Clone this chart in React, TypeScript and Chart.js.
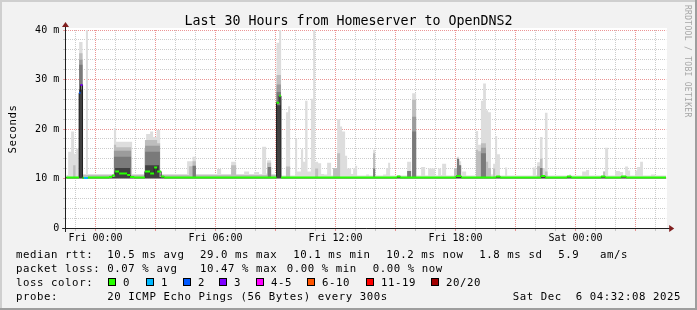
import React, { useEffect, useRef } from 'react';
import { Chart, registerables } from 'chart.js';

Chart.register(...registerables);

// ---- time axis: hours relative to Fri 00:00 ----
const windowStart = -1.4667; // Thu 22:32
const windowEnd = 28.5333; // Sat 04:32
const hourTicks = [-1, 0, 1, 2, 3, 4, 5, 6, 7, 8, 9, 10, 11, 12, 13, 14, 15, 16, 17, 18, 19, 20, 21, 22, 23, 24, 25, 26, 27, 28];
const majorHourEvery = 3;
const xLabelHours = [0, 6, 12, 18, 24];
const xLabelTexts = ['Fri 00:00', 'Fri 06:00', 'Fri 12:00', 'Fri 18:00', 'Sat 00:00'];

// ---- value axis (ms) ----
const yTickValues = [0, 2, 4, 6, 8, 10, 12, 14, 16, 18, 20, 22, 24, 26, 28, 30, 32, 34, 36, 38, 40];
const yLabelValues = [0, 10, 20, 30, 40];
const yLabelTexts = ['0', '10 m', '20 m', '30 m', '40 m'];

// ---- smoke layers: [hour, ms] steps (value holds until next step) ----
const maxSteps: [number, number][] = [
  [-1.47, 10.7], [-1.37, 15.4], [-1.22, 19.5], [-1.07, 15.0], [-0.97, 16.0], [-0.84, 10.7], [-0.82, 37.6], [-0.65, 10.9], [-0.48, 40.5], [-0.38, 10.9],
  [0.92, 20.2], [1.03, 17.4], [1.83, 10.9], [2.43, 16.1], [2.53, 19.0], [2.73, 19.5], [2.88, 18.4], [3.05, 19.8], [3.23, 10.9],
  [4.58, 13.5], [4.85, 14.4], [5.02, 10.9], [6.08, 11.9], [6.28, 10.9], [6.78, 13.4], [7.03, 10.9], [7.43, 11.4], [7.68, 10.9], [7.93, 11.3], [8.18, 10.9], [8.33, 16.4], [8.53, 11.0], [8.58, 13.7], [8.78, 10.9],
  [9.05, 37.4], [9.18, 40.5], [9.28, 10.6], [9.52, 23.4], [9.63, 24.6], [9.73, 10.6], [9.98, 18.1], [10.08, 11.4], [10.27, 15.9], [10.38, 13.4], [10.48, 25.7], [10.6, 11.4], [10.77, 26.1], [10.88, 40.5], [10.98, 13.4], [11.13, 13.1], [11.28, 10.9], [11.43, 10.8], [11.58, 13.2], [11.78, 10.6],
  [11.88, 12.1], [12.08, 22.0], [12.23, 20.5], [12.33, 19.5], [12.48, 14.6], [12.58, 12.0], [12.78, 10.9], [12.88, 12.0], [12.98, 12.6], [13.08, 10.6], [13.53, 10.8], [13.68, 10.6], [13.88, 15.8], [13.98, 10.6], [14.38, 10.8], [14.53, 12.1], [14.63, 13.2], [14.73, 10.6],
  [15.08, 10.7], [15.28, 10.6], [15.58, 13.4], [15.78, 10.6], [15.83, 27.2], [16.03, 10.6], [16.28, 12.3], [16.48, 10.6], [16.63, 12.0], [16.98, 10.6], [17.13, 12.0], [17.28, 10.7], [17.33, 13.0], [17.53, 10.6], [17.93, 12.1], [18.07, 14.4], [18.18, 13.5], [18.28, 10.6], [18.33, 11.4], [18.53, 10.6],
  [19.02, 19.6], [19.13, 16.8], [19.27, 25.7], [19.38, 29.2], [19.52, 23.8], [19.63, 23.4], [19.77, 10.8], [19.88, 13.0], [19.98, 18.6], [20.08, 14.9], [20.22, 10.6], [20.48, 12.2], [20.58, 10.6],
  [21.86, 12.2], [22.03, 10.7], [22.08, 13.3], [22.22, 18.4], [22.35, 12.1], [22.47, 23.3], [22.6, 10.6], [23.68, 10.8], [23.78, 10.6], [24.33, 11.4], [24.53, 11.7], [24.68, 10.6], [25.38, 11.4], [25.48, 16.2], [25.63, 10.6],
  [25.98, 11.5], [26.22, 11.3], [26.38, 10.6], [26.48, 12.4], [26.62, 11.6], [26.73, 10.6], [26.98, 11.6], [27.08, 12.3], [27.23, 13.4], [27.37, 10.6], [27.77, 10.8], [27.98, 10.6],
];
const midSteps: [number, number][] = [
  [-1.47, 10.3], [-1.12, 12.7], [-1.0, 10.3], [-0.82, 35.3], [-0.65, 10.7], [0.92, 16.8], [1.03, 16.3], [1.78, 10.7], [2.47, 17.8], [3.08, 17.1], [3.23, 10.7],
  [4.68, 12.5], [4.85, 13.5], [5.02, 10.7], [6.78, 12.7], [7.03, 10.7], [8.58, 13.2], [8.78, 10.7], [9.05, 30.9], [9.27, 10.3], [9.52, 12.4], [9.73, 10.3],
  [10.98, 12.0], [11.13, 10.3], [11.88, 12.1], [12.08, 15.1], [12.23, 10.3], [13.88, 15.1], [13.98, 10.3], [15.83, 25.9], [16.03, 10.3],
  [17.93, 12.1], [18.07, 14.0], [18.18, 12.7], [18.28, 10.3], [19.02, 15.8], [19.13, 15.5], [19.27, 17.1], [19.52, 13.4], [19.63, 12.1], [19.77, 10.3], [19.88, 12.0], [19.98, 10.3],
  [22.08, 12.5], [22.22, 14.0], [22.35, 10.3], [22.47, 11.4], [22.6, 10.3], [25.38, 11.4], [25.48, 10.3],
];
const mid2Steps: [number, number][] = [
  [-1.47, 10.3], [-0.82, 34.0], [-0.65, 10.3], [0.92, 15.6], [1.78, 10.3], [2.48, 16.6], [3.22, 10.3], [9.05, 29.0], [9.27, 10.3],
  [15.83, 22.5], [16.03, 10.3], [19.27, 16.2], [19.52, 10.3],
];
const darkSteps: [number, number][] = [
  [-1.47, 10.3], [-0.82, 33.0], [-0.65, 10.3], [0.92, 14.4], [1.78, 10.3], [2.48, 15.4], [3.22, 10.3], [4.85, 12.6], [5.02, 10.3], [8.61, 12.3], [8.78, 10.3],
  [9.05, 27.5], [9.27, 10.3], [13.88, 12.0], [13.98, 10.3], [15.58, 11.5], [15.78, 10.3], [15.83, 19.5], [16.03, 10.3], [18.07, 14.0], [18.18, 12.7], [18.28, 10.3],
  [19.27, 15.1], [19.52, 10.3], [22.22, 12.1], [22.35, 10.3],
];
const blackSteps: [number, number][] = [
  [-1.47, 10.3], [-0.82, 28.0], [-0.65, 10.3], [0.98, 12.1], [1.73, 10.3], [2.48, 12.7], [3.18, 10.3], [9.05, 24.8], [9.27, 10.3],
];

// ---- median rtt: [hour, ms, loss colour index] ----
const medianSteps: [number, number, number][] = [
  [-1.47, 10.2, 0], [-0.82, 27.3, 2], [-0.75, 28.9, 3], [-0.65, 10.15, 0], [-0.58, 10.1, 1], [-0.38, 10.2, 0],
  [0.68, 10.3, 0], [0.83, 10.6, 0], [0.98, 11.4, 0], [1.18, 11.0, 0], [1.58, 10.7, 0], [1.73, 10.3, 0], [1.93, 10.2, 0],
  [2.47, 11.4, 0], [2.73, 11.0, 0], [2.93, 12.2, 0], [3.08, 11.4, 0], [3.28, 10.4, 0], [3.43, 10.2, 0],
  [9.05, 25.3, 0], [9.18, 26.7, 0], [9.27, 10.2, 0], [15.08, 10.4, 0], [15.23, 10.2, 0], [18.03, 10.5, 0], [18.28, 10.2, 0],
  [20.03, 10.4, 0], [20.23, 10.2, 0], [22.28, 10.5, 0], [22.48, 10.2, 0], [23.58, 10.4, 0], [23.78, 10.2, 0],
  [25.28, 10.4, 0], [25.48, 10.2, 0], [26.28, 10.4, 0], [26.53, 10.2, 0],
];

const lossColors = ['#26ff00', '#00b8ff', '#0059ff', '#7e00ff', '#ff00ff', '#ff5500', '#ff0000', '#a00000'];
const lossNames = ['0', '1', '2', '3', '4-5', '6-10', '11-19', '20/20'];

// ---- legend texts ----
const titleText = 'Last 30 Hours from Homeserver to OpenDNS2';
const yTitle = 'Seconds';
const watermark = 'RRDTOOL / TOBI OETIKER';
const rttTokens = ['median rtt:', '10.5 ms avg', '29.0 ms max', '10.1 ms min', '10.2 ms now', '1.8 ms sd', '5.9', 'am/s'];
const lossTokens = ['packet loss:', '0.07 % avg', '10.47 % max', '0.00 % min', '0.00 % now'];
const lossColorLabel = 'loss color:';
const probeTokens = ['probe:', '20 ICMP Echo Pings (56 Bytes) every 300s'];
const dateText = 'Sat Dec  6 04:32:08 2025';

// ---- layout constants ----
const rttX = [16, 107.3, 200, 293.3, 386.3, 479.3, 558.3, 600];
const lossX = [16, 107.3, 200, 286.7, 372.7];
const boxX = [108.3, 145.7, 182.7, 219.3, 256, 307.3, 365.7, 430.7];
const MONO = '"DejaVu Sans Mono", "Liberation Mono", monospace';

const stepData = (steps: [number, number][] | [number, number, number][]) => {
  const pts = steps.map((s) => ({ x: s[0], y: s[1] }));
  pts.push({ x: windowEnd, y: steps[steps.length - 1][1] });
  return pts;
};

const smoke = (steps: [number, number][], color: string, base: number, order: number) => ({
  type: 'line' as const,
  data: stepData(steps),
  stepped: true,
  borderWidth: 0,
  borderColor: 'rgba(0,0,0,0)',
  backgroundColor: color,
  pointRadius: 0,
  fill: { value: base },
  order,
});

const lossDatasets = lossColors
  .map((color, k) => {
    const pts: { x: number; y: number | null }[] = [];
    medianSteps.forEach(([t, v, loss], i) => {
      if (loss !== k) return;
      const tEnd = i + 1 < medianSteps.length ? medianSteps[i + 1][0] : windowEnd;
      pts.push({ x: t, y: v }, { x: tEnd, y: v }, { x: tEnd, y: null });
    });
    return {
      type: 'line' as const,
      data: pts,
      borderColor: color,
      borderWidth: 2,
      borderCapStyle: 'butt' as const,
      pointRadius: 0,
      fill: false,
      spanGaps: false,
      order: 1,
    };
  })
  .filter((d) => d.data.length > 0);

const GRID = 'rgba(143,143,143,0.45)';
const MGRID = 'rgba(222,79,79,0.6)';

const decor = {
  id: 'decor',
  beforeDraw(chart: any) {
    const { ctx, width, height, chartArea: ca } = chart;
    ctx.save();
    ctx.fillStyle = '#f2f2f2';
    ctx.fillRect(0, 0, width, height);
    ctx.fillStyle = '#cfcfcf';
    ctx.fillRect(0, 0, width, 2);
    ctx.fillRect(0, 0, 2, height);
    ctx.fillStyle = '#9e9e9e';
    ctx.fillRect(0, height - 2, width, 2);
    ctx.fillRect(width - 2, 0, 2, height);
    ctx.fillStyle = '#ffffff';
    ctx.fillRect(Math.round(ca.left), Math.round(ca.top) - 2, Math.round(ca.right - ca.left) + 1, Math.round(ca.bottom - ca.top) + 2);
    ctx.restore();
  },
  afterDraw(chart: any) {
    const { ctx, width, chartArea: ca } = chart;
    ctx.save();
    // axes
    const ax = Math.round(ca.left) - 0.5;
    const ay = Math.round(ca.bottom) + 0.5;
    ctx.strokeStyle = '#1f1f1f';
    ctx.lineWidth = 1;
    ctx.beginPath();
    ctx.moveTo(ca.left - 4, ay);
    ctx.lineTo(ca.right + 4, ay);
    ctx.moveTo(ax, ca.bottom + 4);
    ctx.lineTo(ax, ca.top - 4);
    ctx.stroke();
    // arrows
    ctx.fillStyle = '#801f1f';
    ctx.beginPath();
    ctx.moveTo(ca.right + 3, ay - 3.5);
    ctx.lineTo(ca.right + 3, ay + 3.5);
    ctx.lineTo(ca.right + 8, ay);
    ctx.closePath();
    ctx.fill();
    ctx.beginPath();
    ctx.moveTo(ax - 3.5, ca.top - 3);
    ctx.lineTo(ax + 3.5, ca.top - 3);
    ctx.lineTo(ax, ca.top - 8);
    ctx.closePath();
    ctx.fill();

    // title
    ctx.fillStyle = '#000';
    ctx.font = `13.3px ${MONO}`;
    ctx.textAlign = 'center';
    ctx.textBaseline = 'alphabetic';
    ctx.fillText(titleText, width / 2, 25);

    const legendFont = `10.7px ${MONO}`;
    const setSpacing = (s: string) => {
      try { (ctx as any).letterSpacing = s; } catch (e) { /* ignore */ }
    };

    // y title
    ctx.save();
    ctx.font = legendFont;
    setSpacing('0.58px');
    ctx.translate(15.5, (ca.top + ca.bottom) / 2);
    ctx.rotate(-Math.PI / 2);
    ctx.textAlign = 'center';
    ctx.fillText(yTitle, 0, 0);
    ctx.restore();

    // watermark
    ctx.save();
    ctx.font = `8px ${MONO}`;
    setSpacing('0.3px');
    ctx.fillStyle = '#a6a6a6';
    ctx.translate(685, 5);
    ctx.rotate(Math.PI / 2);
    ctx.textAlign = 'left';
    ctx.fillText(watermark, 0, 0);
    ctx.restore();

    // legend lines
    ctx.font = legendFont;
    setSpacing('0.58px');
    ctx.textAlign = 'left';
    ctx.fillStyle = '#000';
    rttTokens.forEach((s, i) => ctx.fillText(s, rttX[i], 258));
    lossTokens.forEach((s, i) => ctx.fillText(s, lossX[i], 272));
    ctx.fillText(lossColorLabel, 16, 286);
    lossNames.forEach((s, i) => {
      const bx = Math.round(boxX[i]);
      ctx.fillStyle = lossColors[i];
      ctx.fillRect(bx, 278, 8, 8);
      ctx.strokeStyle = '#000';
      ctx.lineWidth = 1;
      ctx.strokeRect(bx + 0.5, 278.5, 7, 7);
      ctx.fillStyle = '#000';
      ctx.fillText(s, bx + 15, 286);
    });
    ctx.fillText(probeTokens[0], 16, 300);
    ctx.fillText(probeTokens[1], 107.3, 300);
    ctx.textAlign = 'right';
    ctx.fillText(dateText, 681, 300);
    ctx.restore();
  },
};

export default function App() {
  const ref = useRef<HTMLCanvasElement>(null);
  useEffect(() => {
    document.body.style.margin = '0';
    const canvas = ref.current!;
    const chart = new Chart(canvas, {
      type: 'line',
      data: {
        datasets: [
          smoke(maxSteps, '#dddddd', 9.95, 8),
          smoke(midSteps, '#bdbdbd', 10.05, 7),
          smoke(mid2Steps, '#9c9c9c', 10.05, 6),
          smoke(darkSteps, '#7a7a7a', 10.05, 5),
          smoke(blackSteps, '#404040', 10.05, 4),
          {
            type: 'line',
            data: stepData(medianSteps),
            stepped: true,
            borderColor: '#202020',
            borderWidth: 1,
            pointRadius: 0,
            fill: false,
            order: 2,
          },
          ...lossDatasets,
        ] as any,
      },
      options: {
        responsive: false,
        animation: false,
        devicePixelRatio: 1,
        events: [],
        layout: { padding: { left: 0, right: 30.8, top: 30, bottom: 62 } },
        plugins: { legend: { display: false }, tooltip: { enabled: false }, title: { display: false } },
        scales: {
          x: {
            type: 'linear',
            min: windowStart,
            max: windowEnd,
            afterBuildTicks: (scale: any) => {
              scale.ticks = hourTicks.map((v) => ({ value: v }));
            },
            afterFit: (scale: any) => {
              scale.height = 20;
            },
            ticks: {
              autoSkip: false,
              maxRotation: 0,
              minRotation: 0,
              padding: 1,
              color: '#000',
              font: { family: MONO, size: 10 },
              callback: (value: any) => {
                const i = xLabelHours.indexOf(Number(value));
                return i >= 0 ? xLabelTexts[i] : '';
              },
            },
            grid: {
              color: (c: any) => (c.tick && Math.abs(c.tick.value % majorHourEvery) < 1e-6 ? MGRID : GRID),
              tickColor: (c: any) => (c.tick && Math.abs(c.tick.value % majorHourEvery) < 1e-6 ? MGRID : GRID),
              tickLength: 3,
              lineWidth: 1,
              borderDash: [1, 1],
            } as any,
            border: { display: false, dash: [1, 1] },
          },
          y: {
            type: 'linear',
            min: 0,
            max: 40,
            afterBuildTicks: (scale: any) => {
              scale.ticks = yTickValues.map((v) => ({ value: v }));
            },
            afterFit: (scale: any) => {
              scale.width = 66.2;
            },
            ticks: {
              autoSkip: false,
              padding: 4,
              color: '#000',
              font: { family: MONO, size: 10 },
              callback: (value: any) => {
                const i = yLabelValues.indexOf(Number(value));
                return i >= 0 ? yLabelTexts[i] : '';
              },
            },
            grid: {
              color: (c: any) => {
                const v = c.tick ? c.tick.value : -1;
                if (v === 0) return 'rgba(0,0,0,0)';
                return v % 10 === 0 ? MGRID : GRID;
              },
              tickColor: (c: any) => {
                const v = c.tick ? c.tick.value : -1;
                return v % 10 === 0 ? MGRID : GRID;
              },
              tickLength: 3,
              lineWidth: 1,
              borderDash: [1, 1],
            } as any,
            border: { display: false, dash: [1, 1] },
          },
        },
      },
      plugins: [decor],
    });
    return () => chart.destroy();
  }, []);
  return <canvas ref={ref} width={697} height={310} style={{ display: 'block', width: 697, height: 310 }} />;
}
